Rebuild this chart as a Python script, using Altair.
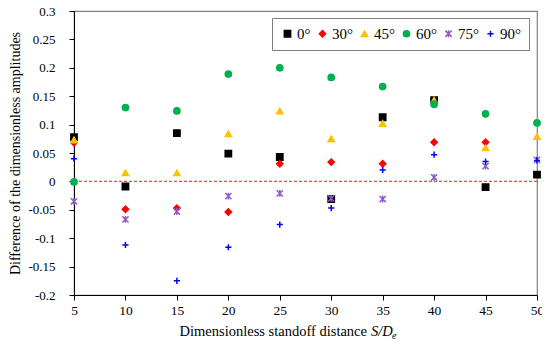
import altair as alt
import pandas as pd

x_vals = [5, 10, 15, 20, 25, 30, 35, 40, 45, 50]
series_names = ["0°", "30°", "45°", "60°", "75°", "90°"]
s0 = [0.078, -0.009, 0.085, 0.049, 0.043, -0.031, 0.113, 0.143, -0.010, 0.012]
s30 = [0.068, -0.049, -0.047, -0.054, 0.031, 0.034, 0.031, 0.069, 0.069, None]
s45 = [0.073, 0.015, 0.015, 0.084, 0.124, 0.075, 0.102, 0.143, 0.059, 0.079]
s60 = [-0.001, 0.130, 0.124, 0.189, 0.200, 0.183, 0.167, 0.136, 0.119, 0.103]
s75 = [-0.035, -0.067, -0.053, -0.026, -0.021, -0.030, -0.031, 0.007, 0.027, 0.038]
s90 = [0.040, -0.112, -0.175, -0.116, -0.076, -0.047, 0.020, 0.047, 0.035, 0.037]
y_ticks = [-0.2, -0.15, -0.1, -0.05, 0, 0.05, 0.1, 0.15, 0.2, 0.25, 0.3]
x_ticks = [5, 10, 15, 20, 25, 30, 35, 40, 45, 50]

colors = ["#000000", "#FF0000", "#FFC000", "#00B050", "#8E5CC8", "#0000FF"]
asterisk = "M-1,-1L1,1M-1,1L1,-1M0,-1.1L0,1.1"
plus = "M-1,0L1,0M0,-1L0,1"
shapes = ["square", "diamond", "triangle-up", "circle", asterisk, plus]
sizes = [40, 38, 55, 44, 40, 60]

rows = []
for name, vals in zip(series_names, [s0, s30, s45, s60, s75, s90]):
    for i, (xv, yv) in enumerate(zip(x_vals, vals)):
        if yv is not None:
            rows.append({"x": xv, "y": yv, "series": name, "order": series_names.index(name)})
df = pd.DataFrame(rows)

FONT = "Liberation Serif"

leg = alt.Legend(
    title=None, orient="none", legendX=198, legendY=7, direction="horizontal",
    columns=6, padding=8, strokeColor="#7f7f7f", fillColor="white",
    labelFontSize=15, labelFont=FONT, labelColor="black", symbolSize=25,
    labelOffset=2, columnPadding=4, symbolStrokeWidth=1.5,
)

color_scale = alt.Scale(domain=series_names, range=colors)
x_scale = alt.Scale(domain=[5, 50], nice=False)
y_scale = alt.Scale(domain=[-0.2, 0.3], nice=False)

x_axis = alt.Axis(values=x_ticks, title=None, grid=False, tickSize=5,
                  labelFontSize=13.5, labelFont=FONT, labelColor="black",
                  labelPadding=3, domainColor="black", tickColor="black",
                  domainWidth=1, labelFlush=False, labelOverlap=False)
y_axis = alt.Axis(values=y_ticks, title="Difference of the dimensionless amplitudes",
                  grid=False, tickSize=5, labelFontSize=13, labelFont=FONT,
                  labelColor="black", labelPadding=14, labelOverlap=False,
                  labelExpr="replace(format(datum.value, '.2~f'), '\u2212', '-')",
                  domainColor="black", tickColor="black",
                  titleFont=FONT, titleFontSize=14, titleFontWeight="normal",
                  titleColor="black", titleX=-59, titleY=142, titleAngle=-90,
                  titleAlign="center", titleBaseline="middle")

points = alt.Chart(df).mark_point(filled=False, strokeWidth=1.5, opacity=1).encode(
    x=alt.X("x:Q", scale=x_scale, axis=x_axis),
    y=alt.Y("y:Q", scale=y_scale, axis=y_axis),
    color=alt.Color("series:N", scale=color_scale, legend=leg, sort=series_names),
    fill=alt.Fill("series:N", scale=color_scale, legend=leg, sort=series_names),
    shape=alt.Shape("series:N", scale=alt.Scale(domain=series_names, range=shapes),
                    legend=leg, sort=series_names),
    size=alt.Size("series:N", scale=alt.Scale(domain=series_names, range=sizes), legend=None),
    order=alt.Order("order:Q"),
)

zero = alt.Chart(pd.DataFrame({"y": [0]})).mark_rule(
    color="#FF4040", strokeDash=[3, 2], strokeWidth=1.3
).encode(y=alt.Y("y:Q", scale=y_scale, axis=y_axis))

title_df = pd.DataFrame({"a": [0]})
t1 = alt.Chart(title_df).mark_text(
    text="Dimensionless standoff distance", font=FONT, fontSize=14.5, align="right",
    baseline="alphabetic", color="black"
).encode(x=alt.value(293), y=alt.value(325))
t2 = alt.Chart(title_df).mark_text(
    text="S/D", font=FONT, fontSize=14.5, fontStyle="italic", align="left",
    baseline="alphabetic", color="black"
).encode(x=alt.value(297), y=alt.value(325))
t3 = alt.Chart(title_df).mark_text(
    text="e", font=FONT, fontSize=10, fontStyle="italic", align="left",
    baseline="alphabetic", color="black"
).encode(x=alt.value(318), y=alt.value(328))

chart = alt.layer(zero, points, t1, t2, t3).properties(
    width=463, height=284,
    autosize=alt.AutoSizeParams(type="none"),
    padding={"left": 66, "top": 3, "right": 5, "bottom": 44},
).configure_view(stroke="#808080", strokeWidth=1.2)

chart.save("out.html", embed_options={"renderer": "svg", "actions": False})
